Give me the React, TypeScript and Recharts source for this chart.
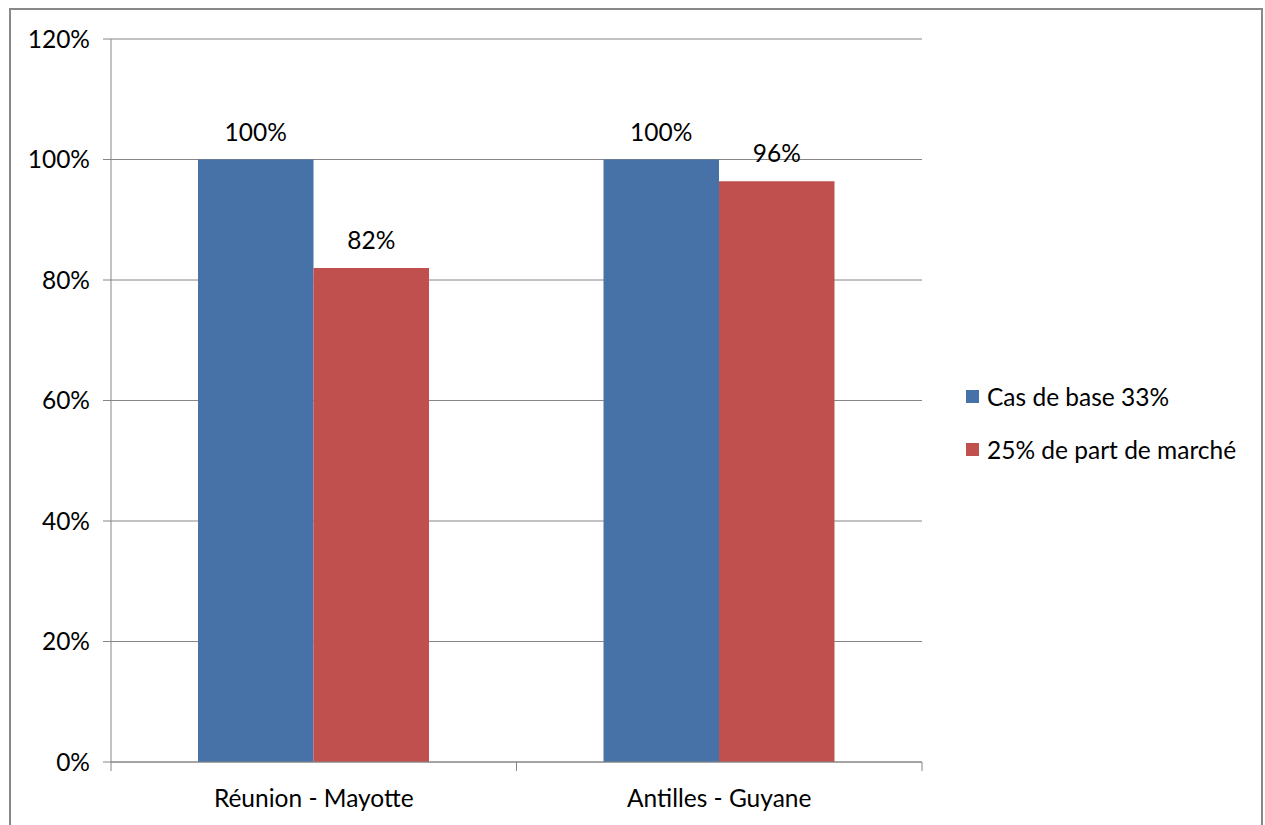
import React from "react";
import { BarChart, Bar, XAxis, YAxis, CartesianGrid, Legend, LabelList } from "recharts";

const regions = ["Réunion - Mayotte", "Antilles - Guyane"];
const baseCase = [1.0, 1.0];
const marketShare25 = [0.82, 0.964];
const yTicks = [0, 0.2, 0.4, 0.6, 0.8, 1.0, 1.2];

const seriesNames = { base: "Cas de base 33%", share: "25% de part de marché" };
const colors = { base: "#4672A8", share: "#C0504D" };

const data = regions.map((region, i) => ({
  region,
  base: baseCase[i],
  share: marketShare25[i],
}));

const FONT = "Lato, 'DejaVu Sans', sans-serif";
const FS = 24.5;
const AXIS = "#868686";
const pct = (v: number) => `${Math.round(v * 100)}%`;

// category label plus tick marks on the band edges
function EdgeTick(props: any) {
  const { x, y, payload, index, visibleTicksCount } = props;
  const half = payload.offset ?? 0;
  const last = index === visibleTicksCount - 1;
  return (
    <g>
      <line x1={x - half} x2={x - half} y1={y} y2={y + 9} stroke={AXIS} />
      {last && <line x1={x + half} x2={x + half} y1={y} y2={y + 9} stroke={AXIS} />}
      <text x={x} y={y + 45} textAnchor="middle" fill="#000" fontSize={FS} fontFamily={FONT}>
        {payload.value}
      </text>
    </g>
  );
}

function LegendBox() {
  const rows = [
    { name: seriesNames.base, color: colors.base },
    { name: seriesNames.share, color: colors.share },
  ];
  return (
    <div style={{ fontFamily: FONT, fontSize: FS, color: "#000" }}>
      {rows.map((r) => (
        <div key={r.name} style={{ display: "flex", alignItems: "center", height: 53 }}>
          <span style={{ width: 13, height: 13, background: r.color, marginRight: 8, display: "inline-block" }} />
          <span>{r.name}</span>
        </div>
      ))}
    </div>
  );
}

export default function App() {
  return (
    <div style={{ position: "fixed", left: 0, top: 0, width: 1265, height: 825, background: "#fff", overflow: "hidden" }}>
      <div
        style={{
          position: "absolute",
          left: 9,
          top: 8,
          width: 1254,
          height: 840,
          border: "2px solid #888",
          boxSizing: "border-box",
        }}
      />
      <div style={{ position: "absolute", left: 0, top: 0 }}>
        <BarChart
          width={1265}
          height={825}
          data={data}
          margin={{ top: 39, right: 343, bottom: 0, left: 0 }}
          barSize={115.5}
          barGap={0}
        >
          <CartesianGrid vertical={false} stroke={AXIS} strokeWidth={1} />
          <XAxis
            dataKey="region"
            height={63}
            axisLine={{ stroke: AXIS }}
            tickLine={false}
            tickSize={0}
            tickMargin={0}
            tick={<EdgeTick />}
            interval={0}
          />
          <YAxis
            width={111}
            domain={[0, 1.2]}
            ticks={yTicks}
            tickFormatter={pct}
            axisLine={{ stroke: AXIS }}
            tickLine={{ stroke: AXIS }}
            tickSize={8}
            tickMargin={13}
            tick={{ fill: "#000", fontSize: FS, fontFamily: FONT }}
          />
          <Legend
            layout="horizontal"
            align="center"
            verticalAlign="middle"
            content={<LegendBox />}
            wrapperStyle={{ left: 966, top: 370, width: 295 }}
          />
          <Bar dataKey="base" name={seriesNames.base} fill={colors.base} isAnimationActive={false}>
            <LabelList dataKey="base" position="top" offset={19} formatter={pct} fill="#000" fontSize={FS} fontFamily={FONT} />
          </Bar>
          <Bar dataKey="share" name={seriesNames.share} fill={colors.share} isAnimationActive={false}>
            <LabelList dataKey="share" position="top" offset={19} formatter={pct} fill="#000" fontSize={FS} fontFamily={FONT} />
          </Bar>
        </BarChart>
      </div>
    </div>
  );
}
